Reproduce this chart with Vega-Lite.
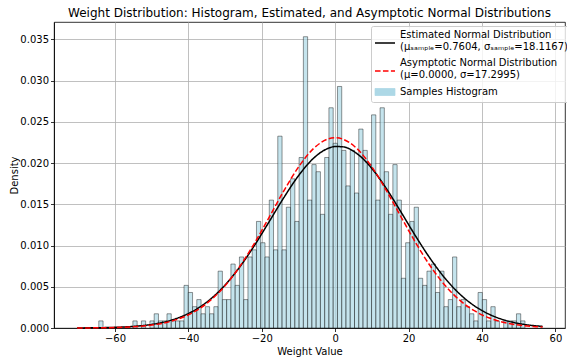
{
  "$schema": "https://vega.github.io/schema/vega-lite/v6.json",
  "width": 511,
  "height": 306,
  "autosize": {"type": "none"},
  "padding": {"left": 54, "top": 22, "right": 2, "bottom": 33},
  "background": "white",
  "title": {"text": "Weight Distribution: Histogram, Estimated, and Asymptotic Normal Distributions", "fontSize": 12, "font": "DejaVu Sans", "fontWeight": "normal", "anchor": "middle", "frame": "group", "offset": 2, "color": "black"},
  "datasets": {
    "bins": [
      {"x0": -64.400, "x1": -63.239, "density": 0.000861, "series": "hist"},
      {"x0": -55.112, "x1": -53.951, "density": 0.000861, "series": "hist"},
      {"x0": -52.790, "x1": -51.629, "density": 0.000861, "series": "hist"},
      {"x0": -50.468, "x1": -49.307, "density": 0.000861, "series": "hist"},
      {"x0": -49.307, "x1": -48.146, "density": 0.001723, "series": "hist"},
      {"x0": -48.146, "x1": -46.985, "density": 0.000861, "series": "hist"},
      {"x0": -46.985, "x1": -45.824, "density": 0.000861, "series": "hist"},
      {"x0": -45.824, "x1": -44.663, "density": 0.001723, "series": "hist"},
      {"x0": -44.663, "x1": -43.502, "density": 0.000861, "series": "hist"},
      {"x0": -43.502, "x1": -42.341, "density": 0.000861, "series": "hist"},
      {"x0": -42.341, "x1": -41.180, "density": 0.000861, "series": "hist"},
      {"x0": -41.180, "x1": -40.019, "density": 0.005168, "series": "hist"},
      {"x0": -40.019, "x1": -38.858, "density": 0.004307, "series": "hist"},
      {"x0": -38.858, "x1": -37.697, "density": 0.002584, "series": "hist"},
      {"x0": -37.697, "x1": -36.536, "density": 0.003445, "series": "hist"},
      {"x0": -36.536, "x1": -35.375, "density": 0.001723, "series": "hist"},
      {"x0": -35.375, "x1": -34.214, "density": 0.002584, "series": "hist"},
      {"x0": -34.214, "x1": -33.053, "density": 0.001723, "series": "hist"},
      {"x0": -33.053, "x1": -31.892, "density": 0.002584, "series": "hist"},
      {"x0": -31.892, "x1": -30.731, "density": 0.006891, "series": "hist"},
      {"x0": -30.731, "x1": -29.570, "density": 0.003445, "series": "hist"},
      {"x0": -29.570, "x1": -28.409, "density": 0.003445, "series": "hist"},
      {"x0": -28.409, "x1": -27.248, "density": 0.007752, "series": "hist"},
      {"x0": -27.248, "x1": -26.087, "density": 0.005168, "series": "hist"},
      {"x0": -26.087, "x1": -24.926, "density": 0.008613, "series": "hist"},
      {"x0": -24.926, "x1": -23.765, "density": 0.003445, "series": "hist"},
      {"x0": -23.765, "x1": -22.604, "density": 0.008613, "series": "hist"},
      {"x0": -22.604, "x1": -21.443, "density": 0.009475, "series": "hist"},
      {"x0": -21.443, "x1": -20.282, "density": 0.012920, "series": "hist"},
      {"x0": -20.282, "x1": -19.121, "density": 0.010336, "series": "hist"},
      {"x0": -19.121, "x1": -17.960, "density": 0.008613, "series": "hist"},
      {"x0": -17.960, "x1": -16.799, "density": 0.015504, "series": "hist"},
      {"x0": -16.799, "x1": -15.638, "density": 0.009475, "series": "hist"},
      {"x0": -15.638, "x1": -14.477, "density": 0.023256, "series": "hist"},
      {"x0": -14.477, "x1": -13.316, "density": 0.009475, "series": "hist"},
      {"x0": -13.316, "x1": -12.155, "density": 0.014643, "series": "hist"},
      {"x0": -12.155, "x1": -10.994, "density": 0.018088, "series": "hist"},
      {"x0": -10.994, "x1": -9.833, "density": 0.012920, "series": "hist"},
      {"x0": -9.833, "x1": -8.672, "density": 0.020672, "series": "hist"},
      {"x0": -8.672, "x1": -7.511, "density": 0.035315, "series": "hist"},
      {"x0": -7.511, "x1": -6.350, "density": 0.015504, "series": "hist"},
      {"x0": -6.350, "x1": -5.189, "density": 0.019811, "series": "hist"},
      {"x0": -5.189, "x1": -4.028, "density": 0.018949, "series": "hist"},
      {"x0": -4.028, "x1": -2.867, "density": 0.013781, "series": "hist"},
      {"x0": -2.867, "x1": -1.706, "density": 0.020672, "series": "hist"},
      {"x0": -1.706, "x1": -0.545, "density": 0.026701, "series": "hist"},
      {"x0": -0.545, "x1": 0.616, "density": 0.022395, "series": "hist"},
      {"x0": 0.616, "x1": 1.777, "density": 0.029285, "series": "hist"},
      {"x0": 1.777, "x1": 2.938, "density": 0.021533, "series": "hist"},
      {"x0": 2.938, "x1": 4.099, "density": 0.017227, "series": "hist"},
      {"x0": 4.099, "x1": 5.260, "density": 0.021533, "series": "hist"},
      {"x0": 5.260, "x1": 6.421, "density": 0.016365, "series": "hist"},
      {"x0": 6.421, "x1": 7.582, "density": 0.024117, "series": "hist"},
      {"x0": 7.582, "x1": 8.743, "density": 0.021533, "series": "hist"},
      {"x0": 8.743, "x1": 9.904, "density": 0.019811, "series": "hist"},
      {"x0": 9.904, "x1": 11.065, "density": 0.025840, "series": "hist"},
      {"x0": 11.065, "x1": 12.226, "density": 0.015504, "series": "hist"},
      {"x0": 12.226, "x1": 13.387, "density": 0.026701, "series": "hist"},
      {"x0": 13.387, "x1": 14.548, "density": 0.018949, "series": "hist"},
      {"x0": 14.548, "x1": 15.709, "density": 0.013781, "series": "hist"},
      {"x0": 15.709, "x1": 16.870, "density": 0.019811, "series": "hist"},
      {"x0": 16.870, "x1": 18.031, "density": 0.015504, "series": "hist"},
      {"x0": 18.031, "x1": 19.192, "density": 0.006029, "series": "hist"},
      {"x0": 19.192, "x1": 20.353, "density": 0.010336, "series": "hist"},
      {"x0": 20.353, "x1": 21.514, "density": 0.012920, "series": "hist"},
      {"x0": 21.514, "x1": 22.675, "density": 0.014643, "series": "hist"},
      {"x0": 22.675, "x1": 23.836, "density": 0.006029, "series": "hist"},
      {"x0": 23.836, "x1": 24.997, "density": 0.005168, "series": "hist"},
      {"x0": 24.997, "x1": 26.158, "density": 0.006891, "series": "hist"},
      {"x0": 26.158, "x1": 27.319, "density": 0.007752, "series": "hist"},
      {"x0": 27.319, "x1": 28.480, "density": 0.004307, "series": "hist"},
      {"x0": 28.480, "x1": 29.641, "density": 0.006891, "series": "hist"},
      {"x0": 29.641, "x1": 30.802, "density": 0.002584, "series": "hist"},
      {"x0": 30.802, "x1": 31.963, "density": 0.003445, "series": "hist"},
      {"x0": 31.963, "x1": 33.124, "density": 0.008613, "series": "hist"},
      {"x0": 33.124, "x1": 34.285, "density": 0.002584, "series": "hist"},
      {"x0": 34.285, "x1": 35.446, "density": 0.003445, "series": "hist"},
      {"x0": 35.446, "x1": 36.607, "density": 0.002584, "series": "hist"},
      {"x0": 36.607, "x1": 37.768, "density": 0.001723, "series": "hist"},
      {"x0": 37.768, "x1": 38.929, "density": 0.000861, "series": "hist"},
      {"x0": 38.929, "x1": 40.090, "density": 0.004307, "series": "hist"},
      {"x0": 40.090, "x1": 41.251, "density": 0.003445, "series": "hist"},
      {"x0": 41.251, "x1": 42.412, "density": 0.000861, "series": "hist"},
      {"x0": 42.412, "x1": 43.573, "density": 0.002584, "series": "hist"},
      {"x0": 43.573, "x1": 44.734, "density": 0.000861, "series": "hist"},
      {"x0": 45.895, "x1": 47.056, "density": 0.000861, "series": "hist"},
      {"x0": 47.056, "x1": 48.217, "density": 0.000861, "series": "hist"},
      {"x0": 48.217, "x1": 49.378, "density": 0.000861, "series": "hist"},
      {"x0": 49.378, "x1": 50.539, "density": 0.001723, "series": "hist"},
      {"x0": 50.539, "x1": 51.700, "density": 0.000861, "series": "hist"}
    ],
    "curves": [
      {"x": -70.3, "density": 0.00001006, "series": "est"},
      {"x": -66, "density": 0.00002476, "series": "est"},
      {"x": -62, "density": 0.00005454, "series": "est"},
      {"x": -58, "density": 0.00011444, "series": "est"},
      {"x": -54, "density": 0.00022856, "series": "est"},
      {"x": -50, "density": 0.0004347, "series": "est"},
      {"x": -46, "density": 0.0007876, "series": "est"},
      {"x": -42, "density": 0.0013591, "series": "est"},
      {"x": -38, "density": 0.0022333, "series": "est"},
      {"x": -34, "density": 0.0034947, "series": "est"},
      {"x": -30, "density": 0.0052104, "series": "est"},
      {"x": -26, "density": 0.007397, "series": "est"},
      {"x": -22, "density": 0.010003, "series": "est"},
      {"x": -18, "density": 0.012882, "series": "est"},
      {"x": -14, "density": 0.015801, "series": "est"},
      {"x": -10, "density": 0.018460, "series": "est"},
      {"x": -6, "density": 0.020540, "series": "est"},
      {"x": -2, "density": 0.021767, "series": "est"},
      {"x": 0, "density": 0.022002, "series": "est"},
      {"x": 2, "density": 0.021970, "series": "est"},
      {"x": 6, "density": 0.021119, "series": "est"},
      {"x": 10, "density": 0.019335, "series": "est"},
      {"x": 14, "density": 0.016860, "series": "est"},
      {"x": 18, "density": 0.014003, "series": "est"},
      {"x": 22, "density": 0.011076, "series": "est"},
      {"x": 26, "density": 0.008344, "series": "est"},
      {"x": 30, "density": 0.005987, "series": "est"},
      {"x": 34, "density": 0.0040916, "series": "est"},
      {"x": 38, "density": 0.0026623, "series": "est"},
      {"x": 42, "density": 0.0016504, "series": "est"},
      {"x": 46, "density": 0.0009744, "series": "est"},
      {"x": 50, "density": 0.0005479, "series": "est"},
      {"x": 54, "density": 0.0002935, "series": "est"},
      {"x": 56.5, "density": 0.0001938, "series": "est"},
      {"x": -70.3, "density": 0.00000599, "series": "asym"},
      {"x": -66, "density": 0.00001592, "series": "asym"},
      {"x": -62, "density": 0.00003748, "series": "asym"},
      {"x": -58, "density": 0.00008355, "series": "asym"},
      {"x": -54, "density": 0.00017662, "series": "asym"},
      {"x": -50, "density": 0.0003539, "series": "asym"},
      {"x": -46, "density": 0.0006722, "series": "asym"},
      {"x": -42, "density": 0.0012104, "series": "asym"},
      {"x": -38, "density": 0.0020661, "series": "asym"},
      {"x": -34, "density": 0.0033426, "series": "asym"},
      {"x": -30, "density": 0.0051267, "series": "asym"},
      {"x": -26, "density": 0.0074538, "series": "asym"},
      {"x": -22, "density": 0.010273, "series": "asym"},
      {"x": -18, "density": 0.013421, "series": "asym"},
      {"x": -14, "density": 0.016621, "series": "asym"},
      {"x": -10, "density": 0.019513, "series": "asym"},
      {"x": -6, "density": 0.021715, "series": "asym"},
      {"x": -2, "density": 0.022907, "series": "asym"},
      {"x": 0, "density": 0.023061, "series": "asym"},
      {"x": 2, "density": 0.022907, "series": "asym"},
      {"x": 6, "density": 0.021715, "series": "asym"},
      {"x": 10, "density": 0.019513, "series": "asym"},
      {"x": 14, "density": 0.016621, "series": "asym"},
      {"x": 18, "density": 0.013421, "series": "asym"},
      {"x": 22, "density": 0.010273, "series": "asym"},
      {"x": 26, "density": 0.0074538, "series": "asym"},
      {"x": 30, "density": 0.0051267, "series": "asym"},
      {"x": 34, "density": 0.0033426, "series": "asym"},
      {"x": 38, "density": 0.0020661, "series": "asym"},
      {"x": 42, "density": 0.0012104, "series": "asym"},
      {"x": 46, "density": 0.0006722, "series": "asym"},
      {"x": 50, "density": 0.0003539, "series": "asym"},
      {"x": 54, "density": 0.00017662, "series": "asym"},
      {"x": 56.5, "density": 0.00011133, "series": "asym"}
    ]
  },
  "encoding": {
    "color": {
      "field": "series", "type": "nominal",
      "scale": {"domain": ["est", "asym", "hist"], "range": ["black", "red", "#add8e6"]},
      "legend": {
        "title": null,
        "orient": "none",
        "legendX": 317,
        "legendY": 4,
        "padding": 4,
        "rowPadding": 6,
        "labelOffset": 15,
        "labelFont": "DejaVu Sans",
        "labelFontSize": 10,
        "labelColor": "black",
        "labelLimit": 300,
        "symbolSize": 100,
        "fillColor": "rgba(255,255,255,0.8)",
        "strokeColor": "#cccccc",
        "cornerRadius": 2,
        "labelExpr": "datum.value === 'est' ? ['Estimated Normal Distribution', '(μₛₐₘₚₗₑ=0.7604, σₛₐₘₚₗₑ=18.1167)'] : datum.value === 'asym' ? ['Asymptotic Normal Distribution', '(μ=0.0000, σ=17.2995)'] : 'Samples Histogram'",
        "encode": {
          "labels": {"update": {"lineHeight": {"value": 11.5}}},
          "symbols": {"update": {
            "shape": {"signal": "datum.value === 'hist' ? 'M-1,-0.7H3V0.7H-1Z' : 'M-1,1.6H3'"},
            "fill": {"signal": "datum.value === 'hist' ? 'rgba(173,216,230,0.7)' : 'transparent'"},
            "stroke": {"signal": "datum.value === 'est' ? 'black' : datum.value === 'asym' ? 'red' : 'rgba(0,0,0,0.7)'"},
            "strokeDash": {"signal": "datum.value === 'asym' ? [5.55, 2.4] : [1, 0]"},
            "strokeWidth": {"signal": "datum.value === 'hist' ? 0.8 : 1.5"},
            "opacity": {"value": 1}
          }}
        }
      }
    }
  },
  "layer": [
    {
      "data": {"name": "bins"},
      "mark": {"type": "rect", "fillOpacity": 0.7, "stroke": "black", "strokeOpacity": 0.7, "strokeWidth": 0.6},
      "encoding": {
        "x": {
          "field": "x0", "type": "quantitative",
          "scale": {"domain": [-76.6, 62.6], "nice": false, "zero": false},
          "axis": {"title": "Weight Value", "values": [-60, -40, -20, 0, 20, 40, 60], "format": "d", "labelPadding": 2, "titlePadding": 3}
        },
        "x2": {"field": "x1"},
        "y": {
          "field": "density", "type": "quantitative",
          "scale": {"domain": [0, 0.0371], "nice": false, "zero": true},
          "axis": {"title": "Density", "values": [0, 0.005, 0.01, 0.015, 0.02, 0.025, 0.03, 0.035], "format": ".3f", "labelPadding": 2, "titlePadding": 0}
        },
        "y2": {"datum": 0}
      }
    },
    {
      "data": {"name": "curves"},
      "mark": {"type": "line", "strokeWidth": 1.5, "interpolate": "monotone"},
      "encoding": {
        "x": {"field": "x", "type": "quantitative"},
        "y": {"field": "density", "type": "quantitative"},
        "strokeDash": {"field": "series", "type": "nominal", "scale": {"domain": ["est", "asym"], "range": [[1, 0], [5.55, 2.4]]}, "legend": null}
      }
    }
  ],
  "config": {
    "view": {"stroke": "black", "strokeWidth": 0.8},
    "axis": {
      "zindex": 1,
      "labelFont": "DejaVu Sans",
      "labelFontSize": 10,
      "labelColor": "black",
      "titleFont": "DejaVu Sans",
      "titleFontSize": 10,
      "titleFontWeight": "normal",
      "titleColor": "black",
      "tickColor": "black",
      "tickSize": 3.5,
      "tickWidth": 0.8,
      "domainColor": "black",
      "domainWidth": 0.8,
      "grid": true,
      "gridColor": "#b0b0b0",
      "gridWidth": 0.8
    }
  }
}
